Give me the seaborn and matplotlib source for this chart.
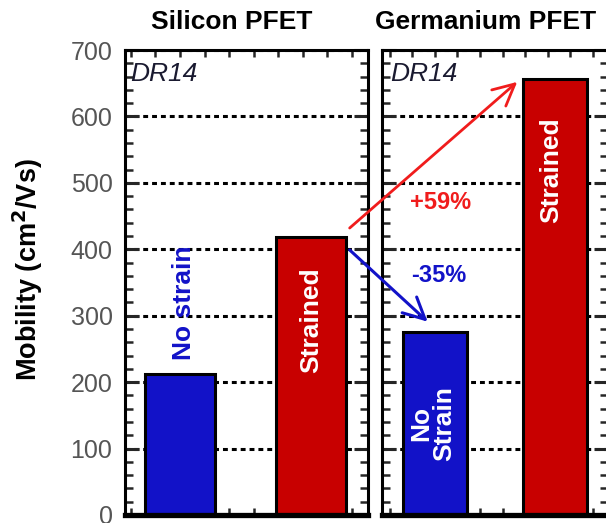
import matplotlib
matplotlib.use("Agg")
import matplotlib.pyplot as plt
import seaborn as sns
import pandas as pd
from matplotlib.ticker import MultipleLocator

# ---- data ----
conditions = ["No strain", "Strained"]
silicon_mobility = [212, 418]
germanium_mobility = [275, 657]
panel_titles = ["Silicon PFET", "Germanium PFET"]
gain_label = "+59%"
loss_label = "-35%"
y_ticks = [0, 100, 200, 300, 400, 500, 600, 700]

sns.set_style("ticks")
plt.rcParams["font.family"] = ["Liberation Sans", "DejaVu Sans"]
plt.rcParams["text.color"] = "black"
plt.rcParams["axes.labelcolor"] = "black"

BLUE = "#1212c8"
RED = "#c80000"
ARROW_RED = "#f01c1c"
W = 0.53

fig = plt.figure(figsize=(6.06, 5.23), dpi=100)
ax1 = fig.add_axes([125/606, 1-515/523, 243/606, 465/523])
ax2 = fig.add_axes([382/606, 1-515/523, 226/606, 465/523])

si_df = pd.DataFrame({"cond": conditions, "mob": silicon_mobility})
ge_df = pd.DataFrame({"cond": conditions, "mob": germanium_mobility})

for ax, df in [(ax1, si_df), (ax2, ge_df)]:
    sns.barplot(data=df, x="cond", y="mob", hue="cond", palette=[BLUE, RED],
                width=W, edgecolor="black", linewidth=2.2, saturation=1,
                legend=False, ax=ax)
    ax.set_ylim(0, 700)
    ax.set_yticks(y_ticks)
    ax.yaxis.set_minor_locator(MultipleLocator(20))
    ax.set_xticks([])
    ax.xaxis.set_minor_locator(MultipleLocator(0.1875))
    ax.set_xlabel("")
    ax.set_ylabel("")
    ax.set_axisbelow(True)
    ax.yaxis.grid(True, color="black", linestyle=(0, (1.6, 1.3)), lw=2.2)
    ax.xaxis.grid(False)
    ax.tick_params(axis="y", which="major", direction="in", left=True, right=True,
                   length=10, width=2.2, labelsize=18, labelcolor="#555555", pad=9)
    ax.tick_params(axis="y", which="minor", direction="in", left=True, right=True,
                   length=6, width=1.8)
    ax.tick_params(axis="x", which="minor", direction="in", top=True, bottom=True,
                   length=5, width=1.8)
    for s in ["left", "right", "top"]:
        ax.spines[s].set_linewidth(2.2)
        ax.spines[s].set_color("black")
    ax.spines["bottom"].set_linewidth(3.8)
    ax.spines["bottom"].set_color("black")
    ax.spines["bottom"].set_capstyle("projecting")

ax1.set_xlim(-0.42, 1.435)
ax2.set_xlim(-0.44, 1.44)
ax2.tick_params(axis="y", labelleft=False)

ax1.set_ylabel("Mobility (cm$^{\\mathbf{2}}$/Vs)", fontsize=19.5, fontweight="bold")
ax1.yaxis.set_label_coords(-0.33, 0.527)

# titles
ax1.text(0.44, 1.06, panel_titles[0], transform=ax1.transAxes, ha="center",
         va="center", fontsize=19, fontweight="bold")
ax2.text(0.46, 1.06, panel_titles[1], transform=ax2.transAxes, ha="center",
         va="center", fontsize=19, fontweight="bold")

# DR14 tags
for ax, xx in [(ax1, 0.02), (ax2, 0.035)]:
    ax.text(xx, 0.975, "DR14", transform=ax.transAxes, ha="left", va="top",
            fontsize=19, fontstyle="italic", color="#1a1a30")

# bar labels
ax1.text(0.03, silicon_mobility[0] + 22, "No strain", rotation=90, ha="center",
         va="bottom", fontsize=19, fontweight="bold", color=BLUE)
ax1.text(1, silicon_mobility[1] - 45, "Strained", rotation=90, ha="center",
         va="top", fontsize=19, fontweight="bold", color="white")
ax2.text(-0.02, germanium_mobility[0] / 2, "No\nStrain", rotation=90, ha="center",
         va="center", fontsize=19, fontweight="bold", color="white",
         linespacing=0.95, multialignment="center")
ax2.text(0.97, germanium_mobility[1] - 59, "Strained", rotation=90, ha="center",
         va="top", fontsize=19, fontweight="bold", color="white")

# arrows
ax2.annotate("", xy=(1 - W/2 - 0.05, germanium_mobility[1] - 5), xycoords=ax2.transData,
             xytext=(1 + W/2 + 0.03, silicon_mobility[1] + 14), textcoords=ax1.transData,
             arrowprops=dict(arrowstyle="->,head_length=0.7,head_width=0.35",
                             color=ARROW_RED, lw=2, mutation_scale=22,
                             shrinkA=0, shrinkB=0),
             annotation_clip=False)
ax2.annotate("", xy=(-0.06, germanium_mobility[0] + 16), xycoords=ax2.transData,
             xytext=(1 + W/2 + 0.03, silicon_mobility[1] - 19), textcoords=ax1.transData,
             arrowprops=dict(arrowstyle="->,head_length=0.7,head_width=0.35",
                             color=BLUE, lw=2.2, mutation_scale=22,
                             shrinkA=0, shrinkB=0),
             annotation_clip=False)

ax2.text(0.05, 470, gain_label, ha="center", va="center", fontsize=17,
         fontweight="bold", color=ARROW_RED)
ax2.text(0.035, 361, loss_label, ha="center", va="center", fontsize=17,
         fontweight="bold", color=BLUE)

fig.savefig("out.png", dpi=100)
